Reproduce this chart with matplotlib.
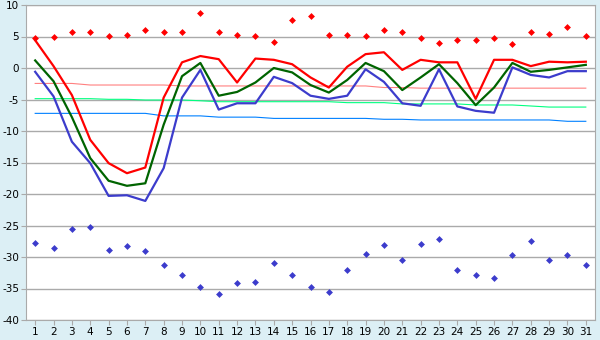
import matplotlib
matplotlib.use('Agg')
import matplotlib.pyplot as plt

DAYS = list(range(1, 32))

# daily maximum / average / minimum
T_MAX = [4.4, 0.3, -4.3, -11.4, -15.1, -16.7, -15.8, -4.7, 0.9, 1.9, 1.4, -2.3, 1.5, 1.3, 0.6, -1.5,
         -3.1, 0.2, 2.2, 2.5, -0.3, 1.3, 0.9, 0.9, -4.9, 1.3, 1.3, 0.3, 1.0, 0.9, 1.0]
T_AVG = [1.2, -2.1, -7.8, -14.3, -17.9, -18.7, -18.3, -9.0, -1.3, 0.8, -4.4, -3.8, -2.3, 0.0, -0.7, -2.7,
         -3.9, -1.9, 0.8, -0.5, -3.5, -1.5, 0.6, -2.4, -5.9, -3.1, 0.8, -0.6, -0.3, 0.1, 0.5]
T_MIN = [-0.6, -4.5, -11.7, -15.1, -20.3, -20.2, -21.1, -15.9, -4.7, -0.3, -6.6, -5.6, -5.6, -1.4, -2.4, -4.4,
         -4.9, -4.4, -0.2, -2.2, -5.6, -6.0, -0.2, -6.1, -6.8, -7.1, 0.1, -1.1, -1.5, -0.5, -0.5]

# extremes for each day (markers)
REC_HIGH = [4.8, 4.9, 5.7, 5.7, 5.1, 5.2, 6.0, 5.7, 5.7, 8.7, 5.7, 5.2, 5.1, 4.2, 7.6, 8.3,
            5.3, 5.2, 5.1, 6.0, 5.7, 4.7, 3.9, 4.5, 4.5, 4.7, 3.8, 5.7, 5.4, 6.5, 5.1]
REC_LOW = [-27.7, -28.6, -25.5, -25.3, -28.9, -28.3, -29.1, -31.3, -32.9, -34.7, -35.9, -34.2, -34.0, -31.0, -32.8, -34.7,
           -35.6, -32.1, -29.6, -28.1, -30.4, -28.0, -27.2, -32.1, -32.9, -33.4, -29.7, -27.5, -30.5, -29.7, -31.2]

# climate normals
NORM_MAX = [-2.45, -2.45, -2.45, -2.7, -2.7, -2.7, -2.7, -2.7, -2.85, -2.85, -2.85, -2.85, -2.85, -2.85, -2.85, -2.85,
            -2.85, -2.85, -2.85, -3.1, -3.1, -3.2, -3.2, -3.2, -3.2, -3.2, -3.2, -3.2, -3.2, -3.2, -3.2]
NORM_AVG = [-4.87, -4.87, -4.87, -4.87, -4.97, -4.97, -5.08, -5.08, -5.08, -5.2, -5.35, -5.35, -5.35, -5.35, -5.35, -5.35,
            -5.35, -5.5, -5.5, -5.5, -5.7, -5.7, -5.7, -5.7, -5.87, -5.87, -5.87, -6.03, -6.2, -6.2, -6.2]
NORM_MIN = [-7.2, -7.2, -7.2, -7.2, -7.2, -7.2, -7.2, -7.6, -7.6, -7.6, -7.8, -7.8, -7.8, -8.0, -8.0, -8.0,
            -8.0, -8.0, -8.0, -8.14, -8.14, -8.25, -8.25, -8.25, -8.25, -8.25, -8.25, -8.25, -8.25, -8.46, -8.46]

BG = '#DCEFF5'


def main():
	plt.rcParams['axes.unicode_minus'] = False
	fig = plt.figure(figsize=(6, 3.4), dpi=100, facecolor=BG)
	ax = fig.add_axes([26 / 600, 20 / 340, 569 / 600, 315 / 340])
	ax.set_facecolor('white')

	ax.plot(DAYS, NORM_MAX, color='#FF8080', lw=0.8)
	ax.plot(DAYS, NORM_AVG, color='#00FF80', lw=0.8)
	ax.plot(DAYS, NORM_MIN, color='#0080FF', lw=0.8)

	ax.plot(DAYS, T_MAX, color='#FF0000', lw=1.6)
	ax.plot(DAYS, T_AVG, color='#006400', lw=1.6)
	ax.plot(DAYS, T_MIN, color='#3C3CCC', lw=1.6)

	ax.plot(DAYS, REC_HIGH, 'D', color='#FF0000', ms=3.5, mew=0)
	ax.plot(DAYS, REC_LOW, 'D', color='#3C3CCC', ms=3.5, mew=0)

	ax.set_xlim(0.5, 31.5)
	ax.set_ylim(-40, 10)
	ax.set_xticks(DAYS)
	ax.set_yticks(range(-40, 11, 5))
	ax.yaxis.grid(True, color='#AAAAAA', lw=1.0)
	ax.set_axisbelow(True)
	for s in ax.spines.values():
		s.set_color('#AAAAAA')
	ax.tick_params(axis='both', colors='#AAAAAA', labelcolor='black', labelsize=7.5, length=3.5, pad=1.5)

	fig.savefig('out.png', dpi=100, facecolor=BG)


if __name__ == '__main__':
	main()
